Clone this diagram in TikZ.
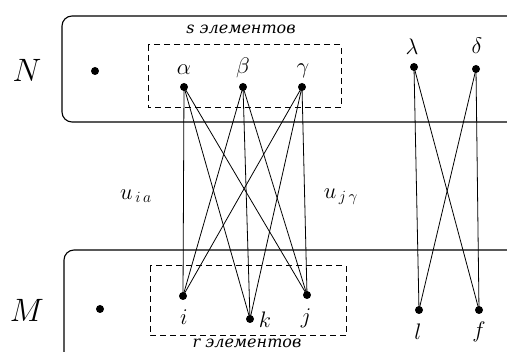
\documentclass[tikz,border=0pt]{standalone}
\usepackage{fontspec}
\setmainfont{Liberation Serif}
\newfontfamily\cyrfont{DejaVu Serif}
\begin{document}
\begin{tikzpicture}[x=1pt,y=-1pt,
  vtx/.style={circle,fill=black,inner sep=0pt,minimum size=8pt},
  lbl/.style={font=\fontsize{17.28}{18}\selectfont,scale=1.3},
  cyr/.style={font=\cyrfont\itshape\fontsize{16}{16}\selectfont,inner sep=1pt},
  big/.style={font=\fontsize{24.88}{26}\selectfont,scale=1.3},
  edge/.style={line width=0.8pt},
  frame/.style={line width=1.1pt,rounded corners=10pt},
  dbox/.style={line width=1pt,dash pattern=on 6pt off 4pt}]
\clip (0,0) rectangle (507,352);
\fill[white] (0,0) rectangle (507,352);
% frames
\draw[frame] (530,16) -- (62,16) -- (62,122) -- (530,122);
\draw[frame] (530,250) -- (64,250) -- (64,380) -- (530,380);
\draw[dbox] (148,45) rectangle (341,108);
\draw[dbox] (150,266) rectangle (346,336);
% set labels
\node[big] (N) at (27,70) {$N$};
\node[big] (M) at (27,310) {$M$};
\node[vtx] (dN) at (95,71) {};
\node[vtx] (dM) at (100,309) {};
\node[cyr] (sl) at (241,29) {s элементов};
\node[cyr] (rl) at (247,343) {r элементов};
% top vertices
\node[vtx] (a) at (184,87) {};
\node[vtx] (b) at (243,87) {};
\node[vtx] (g) at (302,87) {};
\node[vtx] (l) at (414,67) {};
\node[vtx] (d) at (476,69) {};
\node[lbl] at (184,70) {$\alpha$};
\node[lbl] at (243,68) {$\beta$};
\node[lbl] at (303,71) {$\gamma$};
\node[lbl] at (412,47) {$\lambda$};
\node[lbl] at (477,46) {$\delta$};
% bottom vertices
\node[vtx] (i) at (183,296) {};
\node[vtx] (k) at (250,319) {};
\node[vtx] (j) at (307,295) {};
\node[vtx] (ll) at (419,310) {};
\node[vtx] (f) at (479,310) {};
\node[lbl] at (184,317) {$i$};
\node[lbl] at (265,320) {$k$};
\node[lbl] at (306,318) {$j$};
\node[lbl] at (418,332) {$l$};
\node[lbl] at (479,332) {$f$};
% edge labels
\node[lbl] (u1) at (136,196) {$u_{\,i\,a}$};
\node[lbl] (u2) at (341,197) {$u_{\,j\,\gamma}$};
% edges
\foreach \s in {a,b,g}{\foreach \t in {i,k,j}{\draw[edge] (\s.center) -- (\t.center);}}
\foreach \s in {l,d}{\foreach \t in {ll,f}{\draw[edge] (\s.center) -- (\t.center);}}
\end{tikzpicture}
\end{document}
